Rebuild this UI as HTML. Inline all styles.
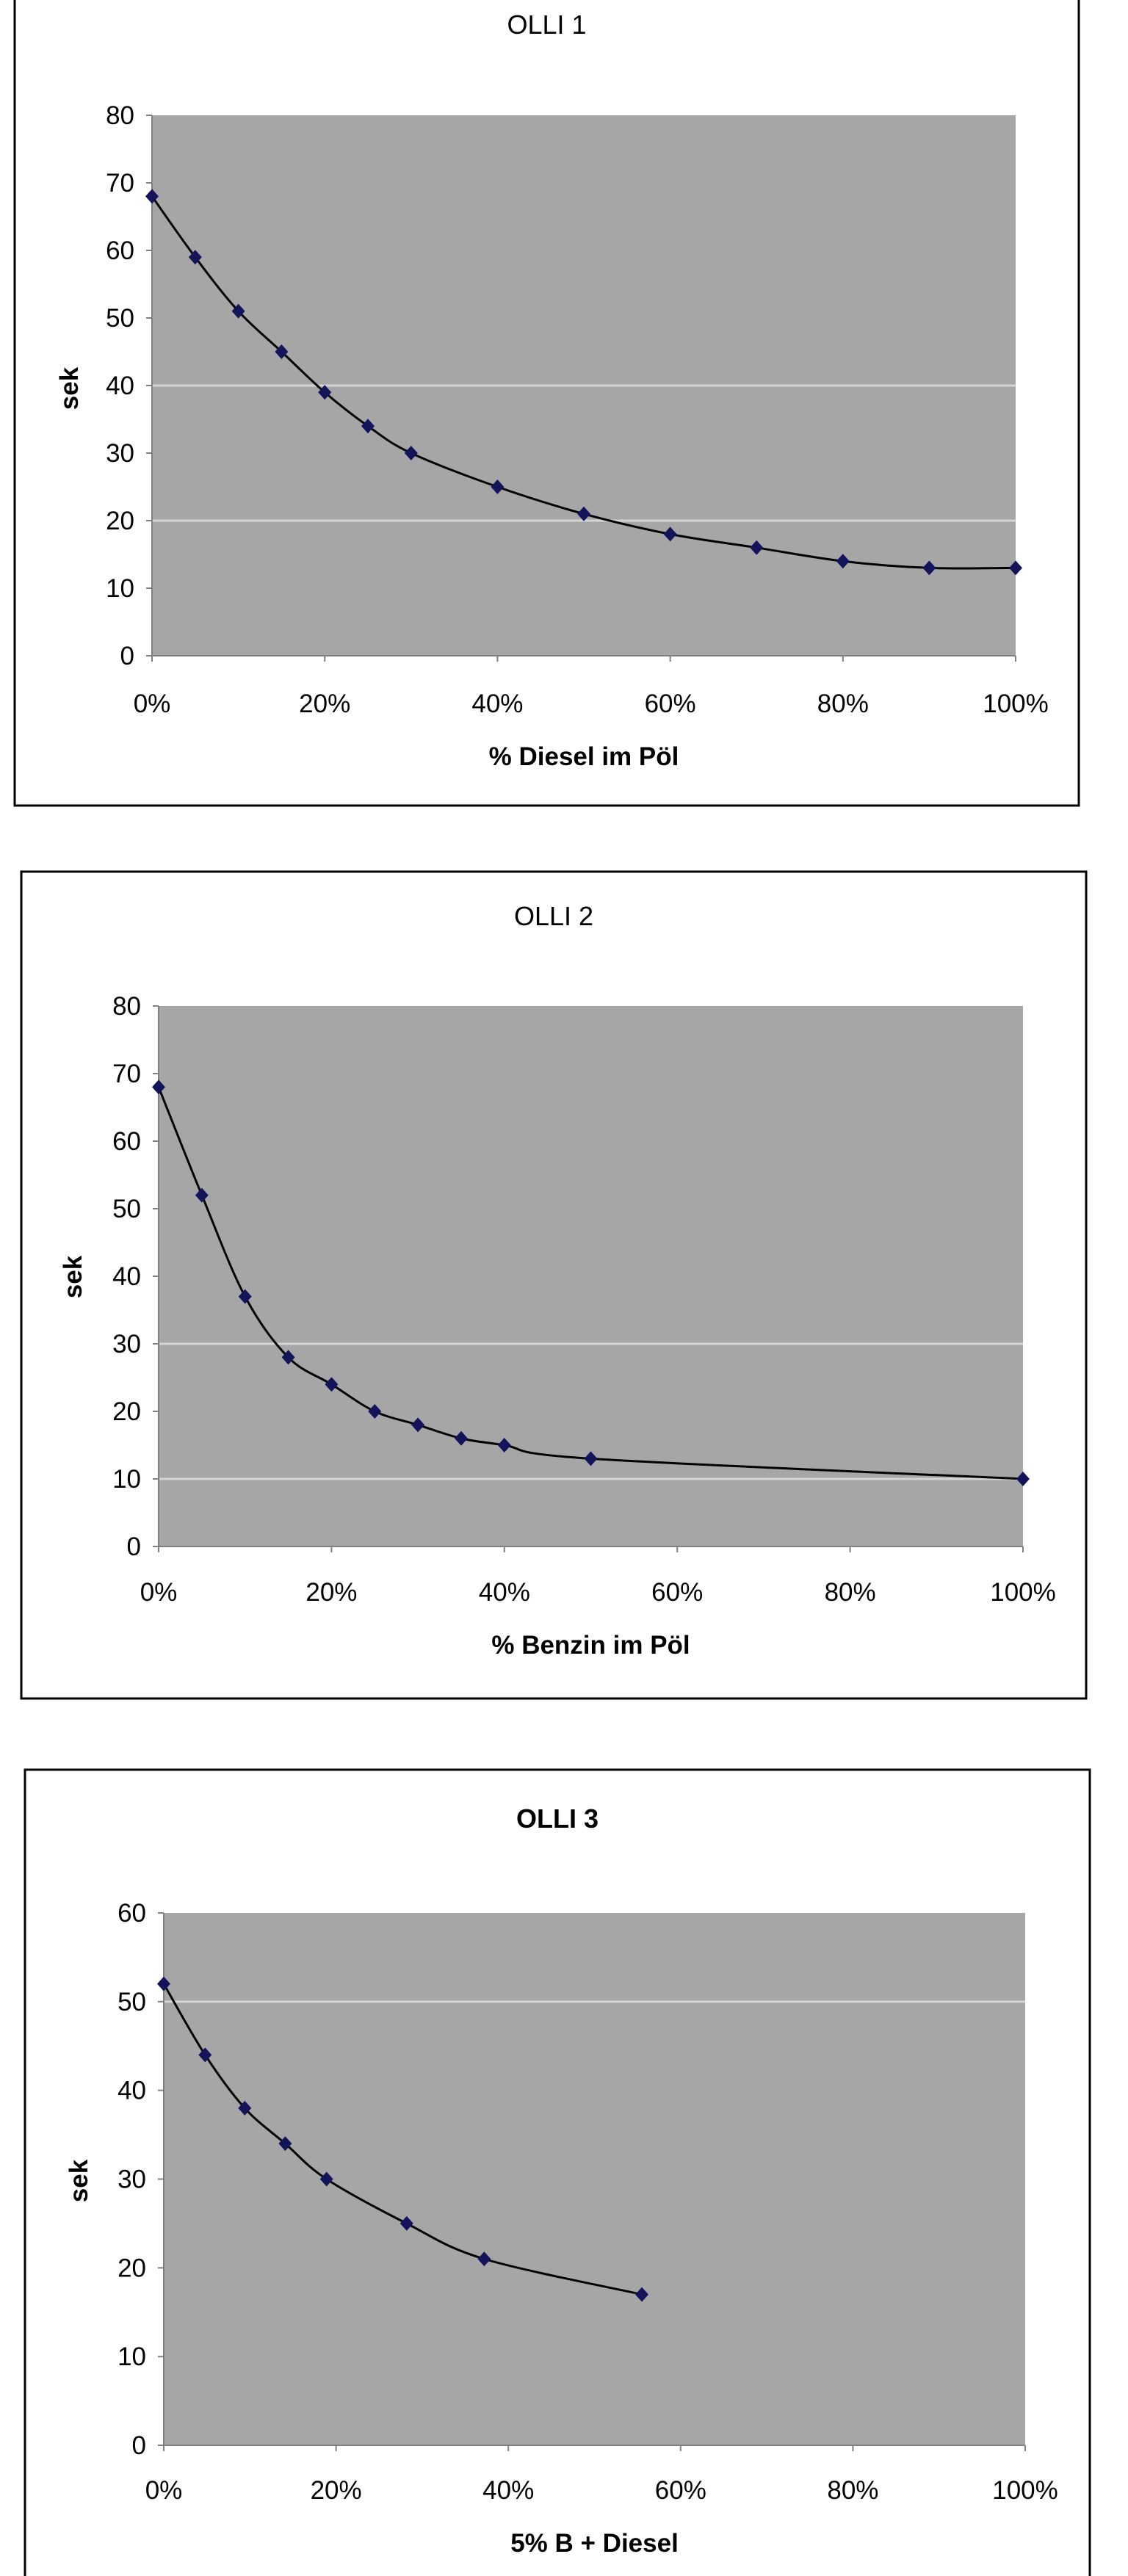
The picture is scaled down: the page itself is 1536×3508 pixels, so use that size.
<!DOCTYPE html>
<html><head><meta charset="utf-8"><style>
body{margin:0;background:#fff;width:1536px;height:3508px;overflow:hidden;font-family:"Liberation Sans",Arial,sans-serif}
svg{position:absolute;left:0;top:0}
</style></head><body>
<svg id="s" width="1536" height="3508"></svg>
<script>
const c1X=[0,5,10,15,20,25,30,40,50,60,70,80,90,100];
const c1Y=[68,59,51,45,39,34,30,25,21,18,16,14,13,13];
const c2X=[0,5,10,15,20,25,30,35,40,50,100];
const c2Y=[68,52,37,28,24,20,18,16,15,13,10];
const c3X=[0,4.8,9.4,14.1,18.9,28.2,37.2,55.5];
const c3Y=[52,44,38,34,30,25,21,17];
const xTicks=[0,20,40,60,80,100];
const yTicks80=[0,10,20,30,40,50,60,70,80];
const yTicks60=[0,10,20,30,40,50,60];
const grid1=[20,40];
const grid2=[10,30];
const grid3=[50];

const NS="http://www.w3.org/2000/svg";
const svg=document.getElementById('s');
function el(tag,attrs,parent){const e=document.createElementNS(NS,tag);for(const k in attrs)e.setAttribute(k,attrs[k]);(parent||svg).appendChild(e);return e;}

function chart(cfg){
  const g=el('g',{});
  
  
  const b=el('rect',{x:cfg.box[0],y:cfg.box[1],width:cfg.box[2]-cfg.box[0],height:cfg.box[3]-cfg.box[1],fill:'#fff',stroke:'#000','stroke-width':3},g);
  
  
  const [L,T,R,B]=cfg.plot;
  const sx=v=>L+(R-L)*v/100;
  const sy=v=>B-(B-T)*v/cfg.ymax;
  const p=el('rect',{x:L,y:T,width:R-L,height:B-T,fill:'#a6a6a6'},g);
  
  
  cfg.grid.forEach(v=>{const l=el('line',{x1:L,x2:R,y1:sy(v),y2:sy(v),stroke:'#d4d4d4','stroke-width':3},g);
    
    });
  el('line',{x1:L,x2:L,y1:T,y2:B,stroke:'#808080','stroke-width':2},g);
  el('line',{x1:L,x2:R,y1:B,y2:B,stroke:'#808080','stroke-width':2},g);
  cfg.yticks.forEach(v=>{
    el('line',{x1:L-8,x2:L,y1:sy(v),y2:sy(v),stroke:'#808080','stroke-width':2},g);
    const t=el('text',{x:L-24,y:sy(v)+12,'text-anchor':'end','font-size':35,fill:'#000'},g);
    t.textContent=v;
    
    
  });
  xTicks.forEach(v=>{
    el('line',{x1:sx(v),x2:sx(v),y1:B,y2:B+8,stroke:'#808080','stroke-width':2},g);
    const t=el('text',{x:sx(v),y:cfg.xlabY,'text-anchor':'middle','font-size':35,fill:'#000'},g);
    t.textContent=v+'%';
    
    
  });
  const pts=cfg.xs.map((x,i)=>[sx(x),sy(cfg.ys[i])]);
  let d='M'+pts[0][0]+','+pts[0][1];
  for(let i=0;i<pts.length-1;i++){
    const p0=pts[i-1]||pts[i],p1=pts[i],p2=pts[i+1],p3=pts[i+2]||p2;
    const c1=[p1[0]+(p2[0]-p0[0])/6,p1[1]+(p2[1]-p0[1])/6];
    const c2=[p2[0]-(p3[0]-p1[0])/6,p2[1]-(p3[1]-p1[1])/6];
    d+=` C${c1[0]},${c1[1]} ${c2[0]},${c2[1]} ${p2[0]},${p2[1]}`;
  }
  const line=el('path',{d:d,fill:'none',stroke:'#000','stroke-width':3},g);
  
  
  pts.forEach(q=>{
    const m=el('path',{d:`M${q[0]},${q[1]-10} L${q[0]+9},${q[1]} L${q[0]},${q[1]+10} L${q[0]-9},${q[1]} Z`,fill:'#14145a'},g);
    
    
  });
  const t=el('text',{x:(cfg.box[0]+cfg.box[2])/2,y:cfg.titleY,'text-anchor':'middle','font-size':36,'font-weight':cfg.boldTitle?'bold':'normal'},g);
  t.textContent=cfg.title;
  
  
  const xt=el('text',{x:(L+R)/2,y:cfg.xtitleY,'text-anchor':'middle','font-size':35,'font-weight':'bold'},g);
  xt.textContent=cfg.xtitle;
  
  
  const yt=el('text',{x:0,y:0,'text-anchor':'middle','font-size':35,'font-weight':'bold',transform:`translate(${cfg.sekX},${cfg.sekY}) rotate(-90)`},g);
  yt.textContent='sek';
  
  
}
chart({name:'chart-olli-1',box:[20,-5,1469,1097],plot:[207,157,1383,893],ymax:80,yticks:yTicks80,grid:grid1,xs:c1X,ys:c1Y,title:'OLLI 1',titleY:46,xlabY:970,xtitleY:1042,xtitle:'% Diesel im Pöl',sekX:106,sekY:529});
chart({name:'chart-olli-2',box:[29,1187,1479,2313],plot:[216,1370,1393,2106],ymax:80,yticks:yTicks80,grid:grid2,xs:c2X,ys:c2Y,title:'OLLI 2',titleY:1260,xlabY:2180,xtitleY:2252,xtitle:'% Benzin im Pöl',sekX:111,sekY:1739});
chart({name:'chart-olli-3',box:[34,2410,1484,3520],plot:[223,2605,1396,3330],ymax:60,yticks:yTicks60,grid:grid3,xs:c3X,ys:c3Y,title:'OLLI 3',titleY:2489,boldTitle:true,xlabY:3403,xtitleY:3475,xtitle:'5% B + Diesel',sekX:119,sekY:2970});
</script>
</body></html>
